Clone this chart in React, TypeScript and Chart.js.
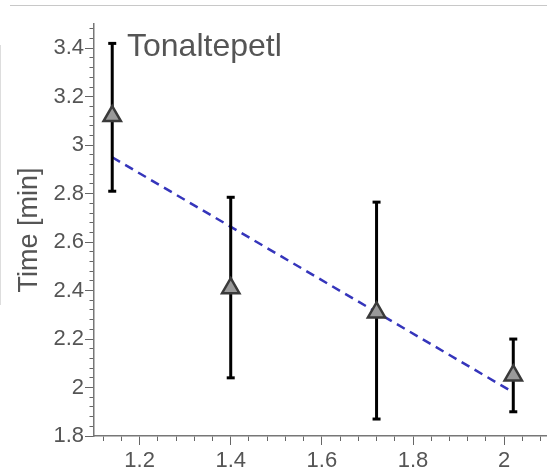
import React, { useEffect, useRef } from "react";
import { Chart, registerables } from "chart.js";

Chart.register(...registerables);

// ---- data ----
const xValues = [1.14, 1.4, 1.72, 2.02];
const meanTimes = [3.12, 2.41, 2.31, 2.05];
const lowTimes = [2.81, 2.04, 1.87, 1.9];
const highTimes = [3.42, 2.785, 2.765, 2.2];
const fitX = [1.14, 2.02];
const fitY = [2.95, 1.98];
const siteLabel = "Tonaltepetl";
const yTitle = "Time [min]";

const FONT = "'Liberation Sans', Arial, Helvetica, sans-serif";
const CANVAS_W = 547;
const CANVAS_H = 471;

const isMajor = (v: number) => Math.abs(v * 5 - Math.round(v * 5)) < 1e-6;
const fmt = (v: number) => (isMajor(v) ? String(+(Math.round(v * 5) / 5).toFixed(1)) : "");

const labelPlugin = {
  id: "siteLabel",
  afterDatasetsDraw(chart: any) {
    const { ctx, chartArea } = chart;
    ctx.save();
    ctx.font = `32px ${FONT}`;
    ctx.fillStyle = "#555555";
    ctx.textAlign = "left";
    ctx.textBaseline = "alphabetic";
    ctx.fillText(siteLabel, chartArea.left + 33, chartArea.top + 32);
    ctx.restore();
  },
};

export default function App() {
  const ref = useRef<HTMLCanvasElement | null>(null);

  useEffect(() => {
    if (!ref.current) return;
    const points = xValues.map((x, i) => ({ x, y: meanTimes[i] }));
    const bars: any[] = [];
    xValues.forEach((x, i) => {
      bars.push({ x, y: lowTimes[i] });
      bars.push({ x, y: highTimes[i] });
      bars.push({ x, y: null });
    });
    const fit = fitX.map((x, i) => ({ x, y: fitY[i] }));

    const chart = new Chart(ref.current, {
      type: "scatter",
      data: {
        datasets: [
          {
            data: points,
            pointStyle: "triangle",
            pointRadius: 10,
            backgroundColor: "#9a9a9a",
            borderColor: "#3a3a3a",
            borderWidth: 2.5,
            showLine: false,
          },
          {
            data: bars,
            showLine: true,
            spanGaps: false,
            borderColor: "#000000",
            borderWidth: 3,
            pointStyle: "line",
            pointRadius: 4,
            pointBorderColor: "#000000",
            pointBorderWidth: 3,
          },
          {
            data: fit,
            showLine: true,
            borderColor: "#3535bb",
            borderWidth: 2.5,
            borderDash: [9, 6],
            pointRadius: 0,
          },
        ],
      },
      options: {
        responsive: false,
        animation: false,
        devicePixelRatio: 1,
        events: [],
        layout: { autoPadding: false, padding: { left: 13, top: 24, right: 0, bottom: 0 } },
        plugins: { legend: { display: false }, tooltip: { enabled: false }, title: { display: false } },
        scales: {
          x: {
            type: "linear",
            min: 1.1,
            max: 2.094,
            afterFit: (s: any) => {
              s.height = 35;
              s.paddingLeft = 0;
              s.paddingRight = 0;
            },
            border: { color: "#777777", width: 1.5 },
            grid: {
              drawOnChartArea: false,
              tickLength: 9,
              tickColor: "#666666",
              tickWidth: 1,
              tickBorderDash: (c: any) => (c.tick && isMajor(c.tick.value) ? [] : [4.5, 100]),
            },
            ticks: {
              stepSize: 0.04,
              includeBounds: false,
              autoSkip: false,
              maxRotation: 0,
              minRotation: 0,
              padding: 3,
              color: "#555555",
              font: { family: FONT, size: 22 },
              callback: (v: any) => fmt(Number(v)),
            },
          },
          y: {
            type: "linear",
            min: 1.8,
            max: 3.5,
            afterFit: (s: any) => {
              s.width = 81;
            },
            border: { color: "#777777", width: 1.5 },
            grid: {
              drawOnChartArea: false,
              tickLength: 9,
              tickColor: "#666666",
              tickWidth: 1,
              tickBorderDash: (c: any) => (c.tick && isMajor(c.tick.value) ? [] : [0, 4.5, 4.5, 100]),
            },
            title: {
              display: true,
              text: yTitle,
              color: "#555555",
              font: { family: FONT, size: 27 },
              padding: { top: 0, bottom: 0 },
            },
            ticks: {
              stepSize: 0.04,
              includeBounds: false,
              autoSkip: false,
              padding: 1,
              color: "#555555",
              font: { family: FONT, size: 22 },
              callback: (v: any) => fmt(Number(v)),
            },
          },
        },
      },
      plugins: [labelPlugin],
    } as any);
    return () => chart.destroy();
  }, []);

  return (
    <div
      style={{
        position: "fixed",
        left: 0,
        top: 0,
        width: 547,
        height: 471,
        overflow: "hidden",
        background: "#ffffff",
      }}
    >
      <div style={{ position: "absolute", left: 10, right: 0, top: 5, height: 1, background: "#c8c8c8" }} />
      <div style={{ position: "absolute", left: 0, top: 45, width: 1, height: 260, background: "#dddddd" }} />
      <canvas
        ref={ref}
        width={CANVAS_W}
        height={CANVAS_H}
        style={{ position: "absolute", left: 0, top: 0, width: CANVAS_W, height: CANVAS_H }}
      />
    </div>
  );
}
